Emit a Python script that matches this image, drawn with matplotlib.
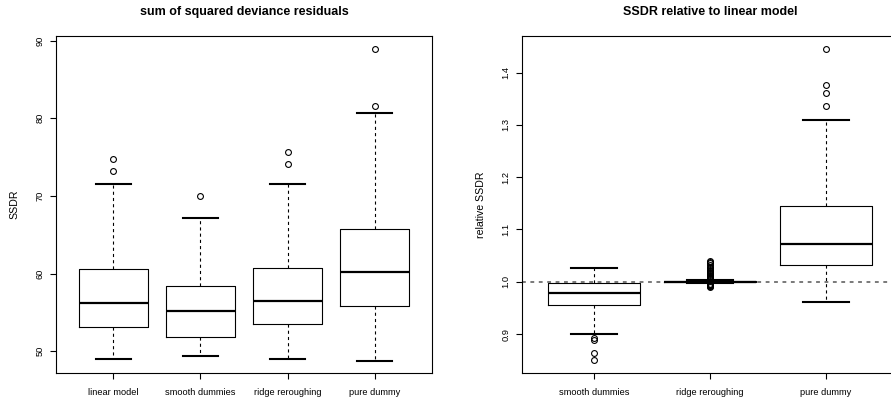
import matplotlib
matplotlib.use("Agg")
import matplotlib.pyplot as plt

plt.rcParams['font.family'] = ['Liberation Sans', 'DejaVu Sans']

# ---- data: left panel (sum of squared deviance residuals) ----
left_labels = ["linear model", "smooth dummies", "ridge reroughing", "pure dummy"]
left_whislo = [49.0, 49.4, 49.0, 48.8]
left_q1     = [53.1, 51.85, 53.55, 55.85]
left_med    = [56.2, 55.2, 56.45, 60.15]
left_q3     = [60.55, 58.35, 60.75, 65.75]
left_whishi = [71.5, 67.2, 71.5, 80.65]
left_fliers = [[74.75, 73.2], [70.0], [75.7, 74.1], [88.95, 81.6]]

# ---- data: right panel (SSDR relative to linear model) ----
right_labels = ["smooth dummies", "ridge reroughing", "pure dummy"]
right_whislo = [0.900, 0.9975, 0.962]
right_q1     = [0.9555, 0.9993, 1.0325]
right_med    = [0.978, 1.0003, 1.073]
right_q3     = [0.9970, 1.0020, 1.1445]
right_whishi = [1.0255, 1.0040, 1.309]
right_fliers = [
    [0.892, 0.888, 0.8635, 0.851],
    [0.990, 0.991, 0.992, 0.993, 0.994, 0.995, 0.996, 1.005, 1.007, 1.008,
     1.009, 1.011, 1.013, 1.015, 1.017, 1.019, 1.021, 1.023, 1.026, 1.029,
     1.032, 1.035, 1.038, 1.040],
    [1.445, 1.3765, 1.3605, 1.3365],
]
ref_line = 1.0

W, H = 891, 401
fig = plt.figure(figsize=(W / 100, H / 100), dpi=100)

ax1 = fig.add_axes([56 / W, 1 - 373 / H, (432 - 56) / W, (373 - 36) / H])
ax2 = fig.add_axes([522 / W, 1 - 373 / H, (432 - 56) / W, (373 - 36) / H])


def make_stats(labels, wlo, q1, med, q3, whi, fl):
    return [dict(label=l, whislo=a, q1=b, med=c, q3=d, whishi=e, fliers=f)
            for l, a, b, c, d, e, f in zip(labels, wlo, q1, med, q3, whi, fl)]


style = dict(
    widths=0.8,
    boxprops=dict(color='black', linewidth=0.8),
    medianprops=dict(color='black', linewidth=1.6, solid_capstyle='butt'),
    whiskerprops=dict(color='black', linewidth=0.8, linestyle=(0, (2.8, 2.8))),
    capprops=dict(color='black', linewidth=1.5),
    flierprops=dict(marker='o', markerfacecolor='none', markeredgecolor='black',
                    markersize=4.2, markeredgewidth=0.8, linestyle='none'),
    capwidths=0.4,
    manage_ticks=False,
)

s1 = make_stats(left_labels, left_whislo, left_q1, left_med, left_q3, left_whishi, left_fliers)
ax1.bxp(s1, positions=range(1, 5), **style)
s2 = make_stats(right_labels, right_whislo, right_q1, right_med, right_q3, right_whishi, right_fliers)
ax2.axhline(ref_line, color='#555555', linewidth=1.1, linestyle=(0, (2.5, 3)), zorder=0)
ax2.bxp(s2, positions=range(1, 4), **style)

ax1.set_xlim(0.34, 4.66)
ax1.set_ylim(47.2, 90.6)
ax1.set_yticks([50, 60, 70, 80, 90])
ax1.set_xticks(range(1, 5))
ax1.set_xticklabels(left_labels)
ax1.set_ylabel("SSDR", fontsize=7.6, labelpad=11)
ax1.set_title("sum of squared deviance residuals", fontsize=9, fontweight='bold', pad=15)

ax2.set_xlim(0.38, 3.62)
ax2.set_ylim(0.8255, 1.47)
ax2.set_yticks([0.9, 1.0, 1.1, 1.2, 1.3, 1.4])
ax2.set_yticklabels(["0.9", "1.0", "1.1", "1.2", "1.3", "1.4"])
ax2.set_xticks(range(1, 4))
ax2.set_xticklabels(right_labels)
ax2.set_ylabel("relative SSDR", fontsize=7.6, labelpad=11)
ax2.set_title("SSDR relative to linear model", fontsize=9, fontweight='bold', pad=15)

for ax in (ax1, ax2):
    for sp in ax.spines.values():
        sp.set_linewidth(0.8)
    ax.tick_params(axis='both', length=4, width=0.8, labelsize=6.7)
    ax.tick_params(axis='x', pad=7)
    ax.tick_params(axis='y', pad=4.5)
    for lab in ax.get_yticklabels():
        lab.set_rotation(90)
        lab.set_va('center')

fig.savefig("out.png", dpi=100)
